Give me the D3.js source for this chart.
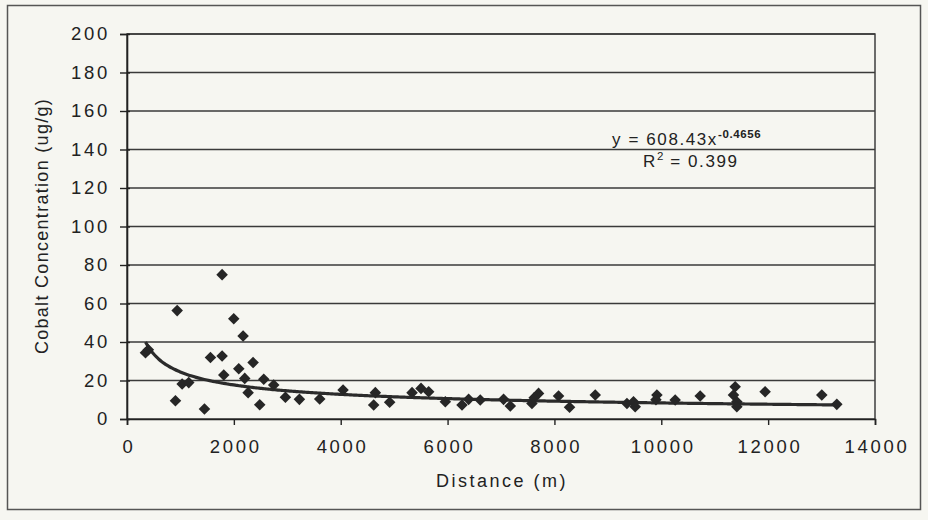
<!DOCTYPE html>
<html><head><meta charset="utf-8">
<script src="https://cdn.jsdelivr.net/npm/d3@7"></script>
<style>
html,body{margin:0;padding:0;background:#f6f6f1;}
svg{display:block;font-family:"Liberation Sans",Arial,sans-serif;}
</style></head>
<body><svg id="c" width="928" height="520"></svg>
<script>
// Data (distance m, cobalt ug/g)
const distance = [346,400,939,1780,1998,2173,1562,1780,2360,2092,1811,2204,2560,2746,1032,1156,2267,907,1450,2484,2965,3227,3607,
 4044,4648,4617,4916,5335,5503,5646,5958,6270,6394,6612,7048,7174,7579,7703,7620,8077,8283,8764,9357,
 9480,9512,9918,9900,10260,10728,11383,11351,11414,11414,11943,13004,13285];
const cobalt = [34.4,36,56.3,75,52.1,43.1,32.0,32.7,29.3,26.1,22.9,21.1,20.6,17.7,18.2,18.9,13.7,9.5,5.2,7.4,11.3,10.2,10.4,
 15.1,13.7,7.3,8.7,13.7,15.9,14.2,9.0,7.3,10.2,9.9,10.2,6.8,8.1,13.3,11,11.9,6.1,12.5,8.1,
 9.0,6.4,12.5,10,9.9,11.9,16.8,12.5,9.0,6.4,14.2,12.5,7.6];
const xTicks = [0,2000,4000,6000,8000,10000,12000,14000];
const yTicks = [0,20,40,60,80,100,120,140,160,180,200];
// Power trendline coefficients shown on the chart
const trendCoef = [608.43, -0.4656];
const r2Label = ["R", "2", " = 0.399"];

const svg = d3.select("#c");
const L=127,R=875,T=34,B=419;
const x = d3.scaleLinear().domain([0,14000]).range([L,R]);
const y = d3.scaleLinear().domain([0,200]).range([B,T]);
const FONT = "'Liberation Sans',Arial,sans-serif";

// outer frame
svg.append("rect").attr("x",7.5).attr("y",5.5).attr("width",913).attr("height",504)
  .attr("fill","#f6f6f1").attr("stroke","#555").attr("stroke-width",1.5);

// plot area
svg.append("rect").attr("x",L).attr("y",T).attr("width",R-L).attr("height",B-T)
  .attr("fill","#f6f6f1").attr("stroke","#333").attr("stroke-width",1.4);

// gridlines
svg.append("g").selectAll("line").data(yTicks.filter(d=>d>0)).join("line")
  .attr("x1",L).attr("x2",R).attr("y1",d=>y(d)).attr("y2",d=>y(d))
  .attr("stroke","#3a3a3a").attr("stroke-width",1.4);

// axes
const yAxis = svg.append("g").attr("transform",`translate(${L},0)`)
  .call(d3.axisLeft(y).tickValues(yTicks).tickSize(7).tickPadding(10));
const xAxis = svg.append("g").attr("transform",`translate(0,${B})`)
  .call(d3.axisBottom(x).tickValues(xTicks).tickSize(6).tickPadding(15).tickFormat(d3.format("d")));
[yAxis,xAxis].forEach(a=>{
  a.select(".domain").attr("stroke","#222").attr("stroke-width",1.6);
  a.selectAll(".tick line").attr("stroke","#222").attr("stroke-width",1.4);
  a.selectAll(".tick text").attr("fill","#222").attr("font-size",18.5).attr("letter-spacing",2.7).attr("font-family",FONT);
});
xAxis.selectAll(".tick text").attr("dx",1.4);
yAxis.selectAll(".tick").append("line").attr("x1",0).attr("x2",3).attr("stroke","#222").attr("stroke-width",1.4);

// trendline
const xs = d3.range(d3.min(distance), d3.max(distance)+1, 50);
const line = d3.line().x(d=>x(d)).y(d=>y(trendCoef[0]*Math.pow(d,trendCoef[1]))).curve(d3.curveBasis);
svg.append("path").datum(xs).attr("d",line).attr("fill","none")
  .attr("stroke","#2b2b2b").attr("stroke-width",3.2).attr("stroke-linejoin","round");

// points
const sym = d3.symbol().type(d3.symbolDiamond2).size(85);
svg.append("g").selectAll("path").data(distance.map((d,i)=>[d,cobalt[i]])).join("path")
  .attr("d",sym).attr("transform",d=>`translate(${x(d[0])},${y(d[1])})`)
  .attr("fill","#262626");

// equation
const eq = svg.append("text").attr("x",612).attr("y",145).attr("font-size",17)
  .attr("letter-spacing",1.6).attr("fill","#222");
eq.append("tspan").text("y = 608.43x");
eq.append("tspan").attr("dy",-7).attr("font-size",11.5).attr("font-weight","bold").attr("letter-spacing",0.6).text(String(trendCoef[1]));
const r2 = svg.append("text").attr("x",643).attr("y",167).attr("font-size",17)
  .attr("letter-spacing",1.6).attr("fill","#222");
r2.append("tspan").text(r2Label[0]);
r2.append("tspan").attr("dy",-7).attr("font-size",11.5).attr("letter-spacing",0.6).text(r2Label[1]);
r2.append("tspan").attr("dy",7).text(r2Label[2]);

// axis titles
svg.append("text").attr("x",502).attr("y",487).attr("text-anchor","middle").attr("font-size",18)
  .attr("letter-spacing",2.5).attr("fill","#222").text("Distance (m)");
svg.append("text").attr("transform","translate(48,226) rotate(-90)").attr("text-anchor","middle")
  .attr("font-size",18).attr("letter-spacing",1.3).attr("fill","#222").text("Cobalt Concentration (ug/g)");
</script></body></html>
